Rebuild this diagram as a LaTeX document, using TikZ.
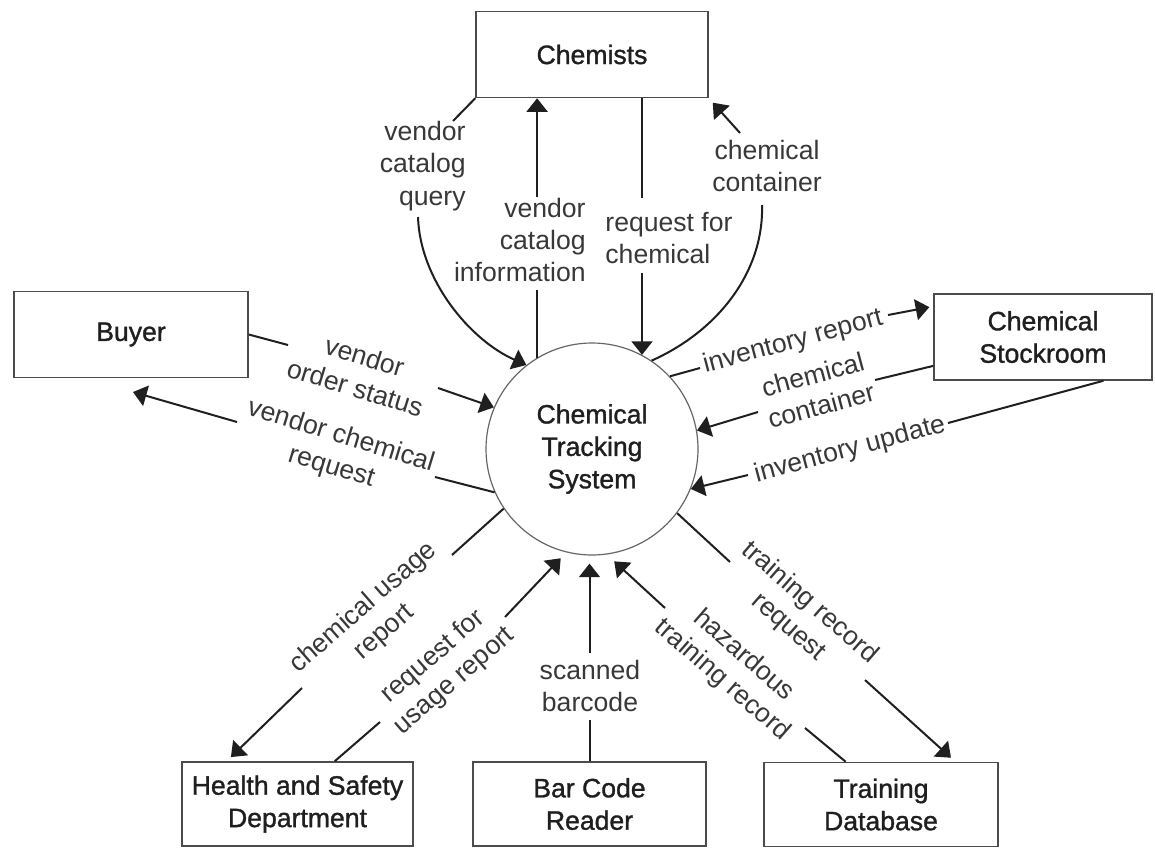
\documentclass[tikz,border=0pt]{standalone}
\usepackage{fontspec}
\setmainfont{Liberation Sans}
\newfontfamily\entityfont[AutoFakeBold=1.2]{Liberation Sans}
\usetikzlibrary{arrows.meta,calc}
\begin{document}
\begin{tikzpicture}[x=0.5pt,y=0.5pt,
  every node/.style={font=\fontsize{13.3}{16.2}\selectfont},
  entity/.style={draw=black!70, line width=0.75pt, minimum height=43pt,
    align=center, text=black!88, inner sep=0pt,
    font=\fontsize{13.3}{16.2}\selectfont\entityfont\bfseries},
  process/.style={circle, draw=black!60, line width=0.6pt, minimum size=106pt,
    inner sep=0pt, align=center, text=black!88,
    font=\fontsize{13.3}{16.2}\selectfont\entityfont\bfseries},
  lbl/.style={text=black!78, inner sep=0pt, align=center},
  flow/.style={draw=black!88, line width=1pt},
  arr/.style={flow, -{Triangle[length=6.8pt,width=10.5pt]}}]
\useasboundingbox (0,0) rectangle (1155,-851);

% external entities
\node[entity, minimum width=116pt] (chem)  at (592,-54.5)  {Chemists};
\node[entity, minimum width=117pt] (buyer) at (131,-334.5) {Buyer};
\node[entity, minimum width=109pt] (stock) at (1043,-337)  {Chemical\\Stockroom};
\node[entity, minimum width=115.5pt, minimum height=42pt] (hsd) at (297.5,-804) {Health and Safety\\Department};
\node[entity, minimum width=116.5pt, minimum height=42pt] (bcr) at (589.5,-804) {Bar Code\\Reader};
\node[entity, minimum width=117pt, minimum height=42pt] (tdb) at (881,-804.5) {Training\\Database};

% the system
\node[process] (cts) at (592,-449) {Chemical\\Tracking\\System};

% flow labels
\node[lbl, anchor=east, align=right] (lvq) at (466,-166) {vendor\\catalog\\query};
\node[lbl, anchor=east, align=right] (lvi) at (586,-240) {vendor\\catalog\\information};
\node[lbl, anchor=west, align=left]  (lrc) at (605,-238) {request for\\chemical};
\node[lbl] (lcc) at (767,-166) {chemical\\container};
\node[lbl, rotate=-17] (lvo) at (360,-372) {vendor\\order status};
\node[lbl, rotate=-17] (lvc) at (336,-452) {vendor chemical\\request};
\node[lbl, rotate=15] (lir) at (793,-342) {inventory report};
\node[lbl, rotate=15] (lsc) at (817,-390) {chemical\\container};
\node[lbl, rotate=15] (liu) at (850,-450) {inventory update};
\node[lbl, rotate=41] (lcu) at (374,-620) {chemical usage\\report};
\node[lbl, rotate=41] (lru) at (444,-669) {request for\\usage report};
\node[lbl] (lsb) at (590,-686) {scanned\\barcode};
\node[lbl, rotate=-41] (lht) at (733,-668) {hazardous\\training record};
\node[lbl, rotate=-41] (ltr) at (799,-615) {training record\\request};

% break points where flows meet their labels
\coordinate (vq1) at (453,-121);
\coordinate (vq2) at (418,-217);
\coordinate (vi1) at (cts.121 |- 0,-290);
\coordinate (vi2) at (cts.121 |- 0,-197);
\coordinate (rc1) at (642,-198);
\coordinate (rc2) at (642,-273);
\coordinate (cc1) at (762,-205);
\coordinate (cc2) at (740,-133);
\coordinate (vo1) at (288,-345);
\coordinate (vo2) at (438,-388);
\coordinate (vc1) at (435,-477);
\coordinate (vc2) at (237,-422);
\coordinate (vc3) at (133,-392);
\coordinate (ir1) at (700,-368);
\coordinate (ir2) at (888,-315);
\coordinate (sc1) at (875,-380);
\coordinate (sc2) at (758,-412);
\coordinate (iu1) at (948,-423);
\coordinate (iu2) at (748,-475);
\coordinate (cu1) at (452,-555);
\coordinate (cu2) at (302,-688);
\coordinate (ru1) at (380,-722);
\coordinate (ru2) at (505,-617);
\coordinate (sb1) at (bcr.north |- 0,-720);
\coordinate (sb2) at (bcr.north |- 0,-653);
\coordinate (ht1) at (805,-728);
\coordinate (ht2) at (665,-608);
\coordinate (tr1) at (730,-562);
\coordinate (tr2) at (865,-680);

% Chemists flows
\draw[flow] (chem.south west) -- (vq1);
\draw[arr] (vq2) .. controls (420,-280) and (470,-340) .. (cts.128);
\draw[flow] (cts.121) -- (vi1);
\draw[arr] (vi2) -- (vi2 |- chem.south);
\draw[flow] (rc1 |- chem.south) -- (rc1);
\draw[arr] (rc2) -- (rc2 |- cts.62);
\draw[flow] (cts.56) .. controls (720,-330) and (764,-270) .. (cc1);
\draw[arr, shorten >=3pt] (cc2) -- (chem.south east);

% Buyer flows
\draw[flow] (buyer.east) -- (vo1);
\draw[arr] (vo2) -- (cts.157);
\draw[flow] (cts.204) -- (vc1);
\draw[arr] (vc2) -- (vc3);

% Chemical Stockroom flows
\draw[flow] (cts.43) -- (ir1);
\draw[arr, shorten >=2pt] (ir2) -- ($(stock.north west)!0.15!(stock.south west)$);
\draw[flow] ($(stock.north west)!0.83!(stock.south west)$) -- (sc1);
\draw[arr] (sc2) -- (cts.10);
\draw[flow] ($(stock.south west)!0.775!(stock.south east)$) -- (iu1);
\draw[arr] (iu2) -- (cts.-22);

% Health and Safety Department flows
\draw[flow] (cts.214) -- (cu1);
\draw[arr, shorten >=3pt] (cu2) -- ($(hsd.north west)!0.195!(hsd.north east)$);
\draw[flow] ($(hsd.north west)!0.66!(hsd.north east)$) -- (ru1);
\draw[arr, shorten >=4pt] (ru2) -- (cts.256);

% Bar Code Reader flow
\draw[flow] (bcr.north) -- (sb1);
\draw[arr, shorten >=4pt] (sb2) -- (sb2 |- cts.south);

% Training Database flows
\draw[flow] ($(tdb.north west)!0.35!(tdb.north east)$) -- (ht1);
\draw[arr, shorten >=5pt] (ht2) -- (cts.-82);
\draw[flow] (cts.-37) -- (tr1);
\draw[arr, shorten >=3pt] (tr2) -- ($(tdb.north west)!0.816!(tdb.north east)$);
\end{tikzpicture}
\end{document}
